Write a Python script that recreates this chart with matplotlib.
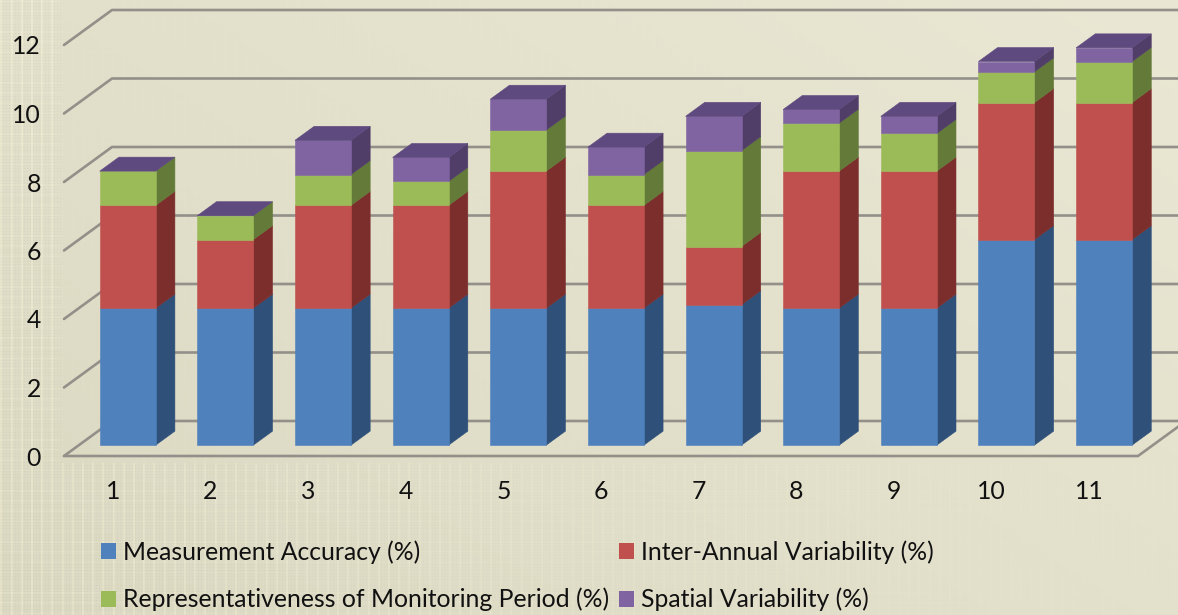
import numpy as np
import matplotlib
matplotlib.use("Agg")
import matplotlib.pyplot as plt
from matplotlib.patches import Patch, Polygon

categories = list(range(1, 12))
measurement = [4.0, 4.0, 4.0, 4.0, 4.0, 4.0, 4.1, 4.0, 4.0, 6.0, 6.0]
inter_annual = [3.0, 2.0, 3.0, 3.0, 4.0, 3.0, 1.7, 4.0, 4.0, 4.0, 4.0]
representative = [1.0, 0.7, 0.9, 0.7, 1.2, 0.9, 2.8, 1.4, 1.1, 0.9, 1.2]
spatial = [0.0, 0.0, 1.0, 0.7, 0.9, 0.8, 1.0, 0.4, 0.5, 0.3, 0.4]

series_names = ["Measurement Accuracy (%)", "Inter-Annual Variability (%)",
                "Representativeness of Monitoring Period (%)", "Spatial Variability (%)"]
series_values = [measurement, inter_annual, representative, spatial]
front_colors = ["#4f81bd", "#c0504d", "#9bbb59", "#8064a2"]
side_colors = ["#2f5079", "#7c2e2c", "#637a38", "#503e69"]
top_color = "#5f4a80"
grid_color = "#93908a"
y_ticks = list(range(0, 13, 2))

W, H = 1178, 615
FONT_SIZE = 17.85
plt.rcParams["font.family"] = ["Lato", "DejaVu Sans"]
fig = plt.figure(figsize=(W / 100, H / 100), dpi=100)

# Page background: soft diagonal gradient with a woven lattice fading to the right.
bg = fig.add_axes([0, 0, 1, 1], zorder=0)
yy, xx = np.mgrid[0:H, 0:W]
t = 0.55 * xx / W + 0.45 * (1 - yy / H)
low, high = np.array([219, 216, 194.0]), np.array([234, 231, 212.0])
img = low + (high - low) * t[..., None]
fade = np.clip(1 - xx / W, 0.12, 1) ** 1.3
outside = (xx < 62) | (yy > 462)
weave = np.where(outside, fade, 0.06 * fade)
pale = ((xx % 10.2) < 2).astype(float)
pale_h = ((yy % 10.2) < 1.5).astype(float)
dots = ((xx % 3) == 0) & ((yy % 3) == 0)
img += (weave * (10 * pale + 4 * pale_h))[..., None] * np.array([1, 1, 0.75])
img -= (weave * 9 * dots)[..., None]
bg.imshow(np.clip(img, 0, 255).astype(np.uint8), extent=(0, W, H, 0), aspect="auto",
          interpolation="bilinear")
bg.axis("off")

# Front plane of the oblique chart box.
ax = fig.add_axes([64 / W, (H - 456) / H, 1074 / W, 411 / H], zorder=1)
ax.patch.set_visible(False)
ax.set_xlim(0.5, 11.5)
ax.set_ylim(0, 12)
for spine in ax.spines.values():
    spine.set_visible(False)
ax.set_xticks(categories)
ax.set_yticks(y_ticks)
ax.tick_params(length=0, labelsize=FONT_SIZE, labelcolor="#111111")
ax.tick_params(axis="x", pad=17)
ax.tick_params(axis="y", pad=16.5)

# One unit of depth, expressed in data units along each axis.
DX = 48 / (1074 / 11)
DY = 35 / (411 / 12)
FRONT, BACK = 0.31, 0.71
BAR_W = 56 / (1074 / 11)

line_kw = dict(color=grid_color, lw=1.9, clip_on=False, solid_capstyle="round", zorder=1)
left, right = 0.5, 11.5
for v in y_ticks:
    ax.plot([left, left + DX, right + DX], [v, v + DY, v + DY], **line_kw)
ax.plot([left, right, right + DX], [0, 0, DY], **line_kw)


def shifted(x, y, depth):
    return (x + DX * depth, y + DY * depth)


for c in categories:
    x0, x1 = c - BAR_W / 2, c + BAR_W / 2
    base = 0.0
    for vals, fc, sc in zip(series_values, front_colors, side_colors):
        top = base + vals[c - 1]
        if vals[c - 1] > 0:
            front = [shifted(x0, base, FRONT), shifted(x1, base, FRONT),
                     shifted(x1, top, FRONT), shifted(x0, top, FRONT)]
            side = [shifted(x1, base, FRONT), shifted(x1, base, BACK),
                    shifted(x1, top, BACK), shifted(x1, top, FRONT)]
            ax.add_patch(Polygon(side, fc=sc, ec=sc, lw=0.4, clip_on=False, zorder=3))
            ax.add_patch(Polygon(front, fc=fc, ec=fc, lw=0.4, clip_on=False, zorder=3))
        base = top
    cap = [shifted(x0, base, FRONT), shifted(x1, base, FRONT),
           shifted(x1, base, BACK), shifted(x0, base, BACK)]
    ax.add_patch(Polygon(cap, fc=top_color, ec=top_color, lw=0.4, clip_on=False, zorder=3))

# Legend is filled column by column, so list the entries to read row by row.
order = [0, 2, 1, 3]
handles = [Patch(fc=front_colors[i], ec="none") for i in order]
names = [series_names[i] for i in order]
leg = fig.legend(handles, names, ncols=2, loc="upper left",
                 bbox_to_anchor=(101 / W, 1 - 540 / H), borderaxespad=0, borderpad=0,
                 frameon=False, fontsize=FONT_SIZE, labelcolor="#111111",
                 handlelength=0.61, handleheight=0.61, handletextpad=0.29,
                 columnspacing=0.38, labelspacing=0.98)
leg.set_zorder(5)

fig.savefig("out.png", dpi=100)
